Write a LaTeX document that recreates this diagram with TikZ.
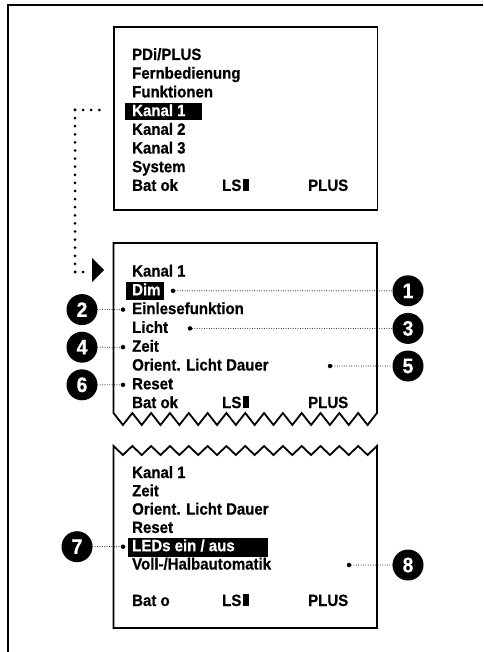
\documentclass[tikz,border=0pt]{standalone}
\usepackage{fontspec}
\setmainfont{Liberation Sans}[FakeStretch=0.92,BoldFeatures={FakeBold=0.6}]
\begin{document}
\begin{tikzpicture}[x=1pt,y=-1pt,
 txt/.style={anchor=base west,inner sep=0pt,font=\fontsize{16.3}{18}\selectfont\bfseries},
 wtxt/.style={txt,text=white},
 hl/.style={fill=black,draw=none},
 boxline/.style={line width=1.8pt,line join=miter},
 num/.style={circle,fill=black,minimum size=31pt,inner sep=0pt,text=white,font=\fontsize{21}{21}\selectfont\bfseries},
 fine/.style={line width=1pt,dash pattern=on 0pt off 2.4pt,line cap=round},
 bigdots/.style={line width=3pt,dash pattern=on 0pt off 8.1pt,line cap=round},
 enddot/.style={circle,fill=black,inner sep=0pt,minimum size=4.5pt}]
\newcommand{\lsblock}{LS\hspace{1.5pt}\rule{6.5pt}{11.8pt}}
\useasboundingbox (0,0) rectangle (483,652);
% frame
\draw[line width=1.8pt] (483,5) -- (8,5) -- (8,652);

% ---------- box 1 ----------
\draw[boxline] (114,27) rectangle (377.5,210);
\fill[hl] (125,103.5) rectangle (202,120.5);
\node[txt] (a1) at (132,60) {PDi/PLUS};
\node[txt] (a2) at (132,78.7) {Fernbedienung};
\node[txt] (a3) at (132,97.4) {Funktionen};
\node[wtxt] (a4) at (132,116.1) {Kanal 1};
\node[txt] (a5) at (132,134.8) {Kanal 2};
\node[txt] (a6) at (132,153.5) {Kanal 3};
\node[txt] (a7) at (132,172.2) {System};
\node[txt] (a8) at (132,190.9) {Bat ok};
\node[txt] (a9) at (222,190.9) {\lsblock};
\node[txt] (a10) at (308,190.9) {PLUS};

% routing dotted line
\coordinate (r0) at (99.3,110);
\coordinate (r1) at (75,110);
\coordinate (r2) at (75,272);
\coordinate (r3) at (83.1,272);
\draw[bigdots] (r0) -- (r1);
\draw[bigdots] (r1) -- (r2);
\draw[bigdots] (r2) -- (r3);
\fill (92,258) -- (104,270) -- (92,282) -- cycle;

% ---------- box 2 ----------
\draw[boxline] (113.5,243) -- (113.5,413)
  \foreach \i in {1,...,14} { -- ++(9.41,12) -- ++(9.41,-12) }
  -- (377,243) -- cycle;
\fill[hl] (125.7,281.7) rectangle (164,300);
\node[txt] (b1) at (132,276.5) {Kanal 1};
\node[wtxt] (b2) at (132,295.3) {Dim};
\node[txt] (b3) at (132,314.1) {Einlesefunktion};
\node[txt] (b4) at (132,332.9) {Licht};
\node[txt] (b5) at (132,351.7) {Zeit};
\node[txt] (b6) at (132,370.5) {Orient. Licht Dauer};
\node[txt] (b7) at (132,389.3) {Reset};
\node[txt] (b8) at (132,408.1) {Bat ok};
\node[txt] (b9) at (222,408.1) {\lsblock};
\node[txt] (b10) at (308,408.1) {PLUS};

% callouts box 2
\node[num] (n1) at (408,290.8) {1};
\node[enddot] (d1) at (173,290.8) {};
\draw[fine] (d1) -- (n1);
\node[num] (n2) at (82,309.6) {2};
\node[enddot] (d2) at (123,309.6) {};
\draw[fine] (n2) -- (d2);
\node[num] (n3) at (408,328.4) {3};
\node[enddot] (d3) at (190,328.4) {};
\draw[fine] (d3) -- (n3);
\node[num] (n4) at (82,347.2) {4};
\node[enddot] (d4) at (123,347.2) {};
\draw[fine] (n4) -- (d4);
\node[num] (n5) at (408,366) {5};
\node[enddot] (d5) at (330,366) {};
\draw[fine] (d5) -- (n5);
\node[num] (n6) at (82,384.8) {6};
\node[enddot] (d6) at (123,384.8) {};
\draw[fine] (n6) -- (d6);

% ---------- box 3 ----------
\draw[boxline] (113.5,628) -- (113.5,446)
  \foreach \i in {1,...,14} { -- ++(9.41,9) -- ++(9.41,-9) }
  -- (377,628) -- cycle;
\fill[hl] (127.7,538) rectangle (267.7,557);
\node[txt] (c1) at (132,478) {Kanal 1};
\node[txt] (c2) at (132,496.3) {Zeit};
\node[txt] (c3) at (132,514.6) {Orient. Licht Dauer};
\node[txt] (c4) at (132,532.9) {Reset};
\node[wtxt] (c5) at (132,551.2) {LEDs ein / aus};
\node[txt] (c6) at (132,569.5) {Voll-/Halbautomatik};
\node[txt] (c7) at (132,606) {Bat o};
\node[txt] (c8) at (222,606) {\lsblock};
\node[txt] (c9) at (308,606) {PLUS};

% callouts box 3
\node[num] (n7) at (77,546.7) {7};
\node[enddot] (d7) at (123,546.7) {};
\draw[fine] (n7) -- (d7);
\node[num] (n8) at (408,565) {8};
\node[enddot] (d8) at (349,565) {};
\draw[fine] (d8) -- (n8);
\end{tikzpicture}
\end{document}
